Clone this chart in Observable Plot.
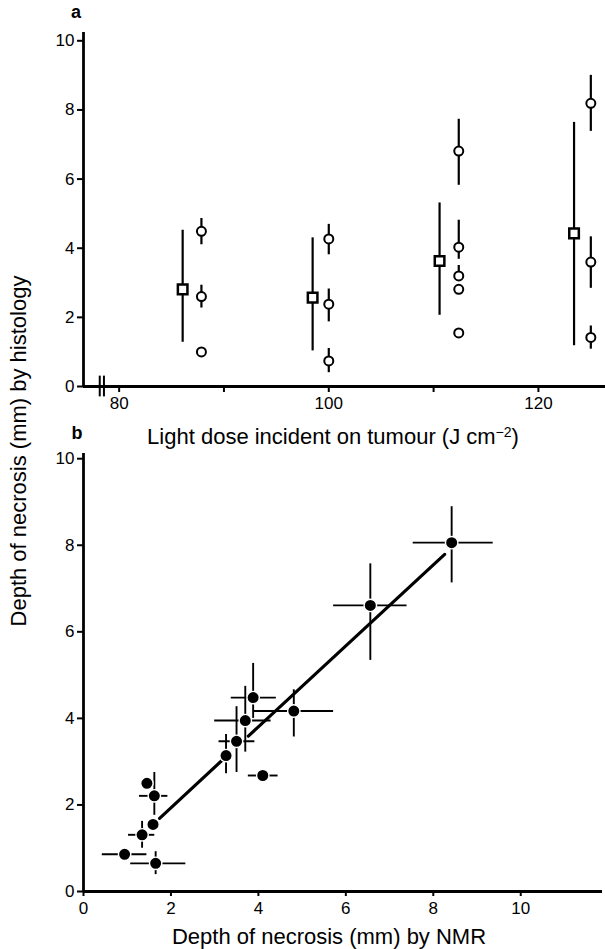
<!DOCTYPE html>
<html><head><meta charset="utf-8">
<script src="https://cdn.jsdelivr.net/npm/d3@7"></script>
<script src="https://cdn.jsdelivr.net/npm/@observablehq/plot@0.6"></script>
<style>
body{margin:0;background:#fff;}
#wrap{position:relative;width:605px;height:949px;font-family:"Liberation Sans",Arial,Helvetica,sans-serif;color:#000;overflow:hidden;background:#fff}
.panel{position:absolute;left:0}
.lab{position:absolute;font-size:22px;white-space:nowrap;transform:translate(-50%,-50%);line-height:1}
.tag{position:absolute;font-size:18px;font-weight:bold;transform:translate(-50%,-50%);line-height:1}
sup{font-size:14px;vertical-align:0.5em;line-height:0}
</style></head><body>
<div id="wrap">
  <div id="pa" class="panel" style="top:0"></div>
  <div id="pb" class="panel" style="top:440px"></div>
  <div class="tag" style="left:76px;top:12px">a</div>
  <div class="tag" style="left:77px;top:433px">b</div>
  <div class="lab" style="left:333px;top:437px">Light dose incident on tumour (J cm<sup>−2</sup>)</div>
  <div class="lab" style="left:329px;top:937px">Depth of necrosis (mm) by NMR</div>
  <div class="lab" style="left:19px;top:451px;transform:translate(-50%,-50%) rotate(-90deg)">Depth of necrosis (mm) by histology</div>
</div>
<script>
// ---------- Panel a data ----------
const doseTicks = [80, 90, 100, 110, 120];
const depthTicks = [0, 2, 4, 6, 8, 10];
const doseDomain = [76.6, 126.4];
const depthDomainA = [0, 10.24];
const axisBreak = [78.15, 78.55];

// mean values (squares) with range bars
const sqDose  = [86.06, 98.46, 110.57, 123.4];
const sqDepth = [2.81, 2.57, 3.63, 4.43];
const sqLo    = [1.28, 1.03, 2.06, 1.18];
const sqHi    = [4.52, 4.30, 5.31, 7.64];

// individual tumours (circles)
const ciDose  = [87.85, 87.85, 87.85, 100, 100, 100, 112.4, 112.4, 112.4, 112.4, 112.4, 125.0, 125.0, 125.0];
const ciDepth = [4.49, 2.60, 1.00, 4.27, 2.38, 0.74, 6.81, 4.03, 3.20, 2.81, 1.55, 8.19, 3.60, 1.42];
const ciLo    = [4.10, 2.27, null, 3.81, 1.87, 0.40, 5.82, 3.68, null, null, null, 7.38, 2.84, 1.08];
const ciHi    = [4.86, 2.93, null, 4.69, 2.82, 1.10, 7.73, 4.81, 3.50, null, null, 9.00, 4.33, 1.75];

// ---------- Panel b data ----------
const nmrTicks = [0, 2, 4, 6, 8, 10];
const nmrDomain = [0, 11.87];
const depthDomainB = [0, 10.12];
const nmr    = [8.42, 6.56, 3.88, 3.70, 3.50, 3.26, 4.81, 4.10, 1.45, 1.62, 1.59, 1.34, 0.94, 1.65];
const hist   = [8.06, 6.61, 4.48, 3.95, 3.47, 3.14, 4.17, 2.68, 2.50, 2.21, 1.55, 1.31, 0.86, 0.65];
const nmrLo  = [7.54, 5.72, 3.38, 3.00, 3.10, null, 3.90, 3.77, null, 1.28, null, 1.03, 0.43, 1.08];
const nmrHi  = [9.37, 7.40, 4.41, 4.29, 3.92, null, 5.72, 4.45, null, 1.93, null, 1.63, 1.45, 2.34];
const histLo = [7.13, 5.34, 4.00, 3.22, 2.75, 2.72, 3.57, null, null, 1.76, null, 1.00, null, 0.39];
const histHi = [8.89, 7.57, 5.27, 4.74, 4.27, 3.63, 4.66, null, null, 2.75, null, 1.62, null, 0.92];
// regression line (drawn in two pieces, broken where it passes behind points)
const fitNmr  = [1.74, 3.19, 3.77, 8.26];
const fitHist = [1.69, 3.05, 3.59, 7.79];
const fitSeg  = [1, 1, 2, 2];

const font = '"Liberation Sans", Arial, Helvetica, sans-serif';

const squares = sqDose.map((d, i) => ({dose: d, depth: sqDepth[i], lo: sqLo[i], hi: sqHi[i]}));
const circles = ciDose.map((d, i) => ({dose: d, depth: ciDepth[i], lo: ciLo[i], hi: ciHi[i]}));
const circleBars = circles.filter(c => c.lo != null || c.hi != null)
  .map(c => ({dose: c.dose, lo: c.lo ?? c.depth, hi: c.hi ?? c.depth}));

const plotA = Plot.plot({
  width: 605, height: 430,
  marginLeft: 83, marginRight: 0, marginTop: 32, marginBottom: 44,
  x: {domain: doseDomain},
  y: {domain: depthDomainA},
  style: {fontFamily: font, fontSize: "17px", color: "#000", background: "transparent", overflow: "visible"},
  marks: [
    Plot.axisY({ticks: depthTicks, tickSize: 6, tickPadding: 3, strokeWidth: 2, fontSize: 17, label: null, tickFormat: "d"}),
    Plot.axisX({ticks: doseTicks, tickSize: 6, tickPadding: 4, strokeWidth: 2, fontSize: 17, label: null, tickFormat: d => d % 20 === 0 ? String(d) : ""}),
    Plot.ruleY([0], {strokeWidth: 2.8}),
    Plot.ruleX([doseDomain[0]], {strokeWidth: 2.8}),
    Plot.ruleX(axisBreak, {x: d => d, y1: -0.3, y2: 0.3, strokeWidth: 2}),
    Plot.ruleX(squares, {x: "dose", y1: "lo", y2: "hi", strokeWidth: 2.2}),
    Plot.ruleX(circleBars, {x: "dose", y1: "lo", y2: "hi", strokeWidth: 2.2}),
    Plot.dot(squares, {x: "dose", y: "depth", symbol: "square", r: 5.4, fill: "white", stroke: "black", strokeWidth: 2.5}),
    Plot.dot(circles, {x: "dose", y: "depth", r: 4.5, fill: "white", stroke: "black", strokeWidth: 2})
  ]
});
document.getElementById("pa").appendChild(plotA);

const pts = nmr.map((x, i) => ({x, y: hist[i], xlo: nmrLo[i], xhi: nmrHi[i], ylo: histLo[i], yhi: histHi[i]}));
const fit = fitNmr.map((x, i) => ({x, y: fitHist[i], seg: fitSeg[i]}));

const plotB = Plot.plot({
  width: 605, height: 509,
  marginLeft: 83, marginRight: 3, marginTop: 13, marginBottom: 58,
  x: {domain: nmrDomain},
  y: {domain: depthDomainB},
  style: {fontFamily: font, fontSize: "17px", color: "#000", background: "transparent", overflow: "visible"},
  marks: [
    Plot.axisY({ticks: depthTicks, tickSize: 6, tickPadding: 3, strokeWidth: 2, fontSize: 17, label: null, tickFormat: "d"}),
    Plot.axisX({ticks: nmrTicks, tickSize: 5, tickPadding: 5, strokeWidth: 2, fontSize: 17, label: null, tickFormat: "d"}),
    Plot.ruleY([0], {strokeWidth: 2.8}),
    Plot.ruleX([nmrDomain[0]], {strokeWidth: 2.8}),
    Plot.ruleX(pts.filter(d => d.ylo != null), {x: "x", y1: "ylo", y2: "yhi", strokeWidth: 1.9}),
    Plot.ruleY(pts.filter(d => d.xlo != null), {y: "y", x1: "xlo", x2: "xhi", strokeWidth: 1.9}),
    Plot.line(fit, {x: "x", y: "y", z: "seg", stroke: "black", strokeWidth: 3.2}),
    Plot.dot(pts, {x: "x", y: "y", r: 6.2, fill: "black", stroke: "white", strokeWidth: 1.4})
  ]
});
document.getElementById("pb").appendChild(plotB);
</script>
</body></html>
